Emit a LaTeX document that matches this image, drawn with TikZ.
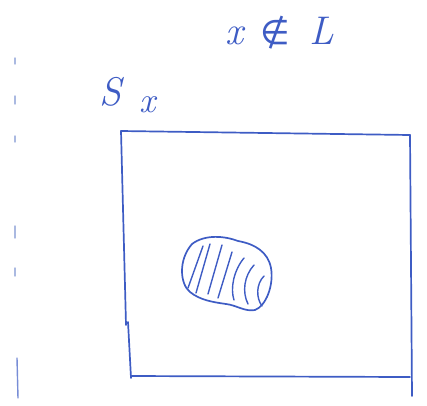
\documentclass[tikz,border=0pt]{standalone}
\usepackage{fontspec}
\newfontfamily\symfont{DejaVu Sans}
\usetikzlibrary{calc}
\definecolor{penblue}{RGB}{62,92,196}
\definecolor{faintblue}{RGB}{170,185,225}

\begin{document}
\begin{tikzpicture}[
  x=1pt, y=-1pt,
  pen/.style={draw=penblue, line width=1.7pt, line cap=round, line join=round},
  faint/.style={draw=faintblue, line width=1.4pt, line cap=round},
  hatch/.style={pen, line width=1.4pt},
  label/.style={text=penblue, inner sep=0pt, font=\fontsize{40}{44}\selectfont\itshape},
]
\useasboundingbox (0,0) rectangle (427,405);

% ---- labels ----
\node[label] (elem) at (234,36) {x};
\node[label, font=\fontsize{34}{38}\selectfont\symfont] (notin) at (275,33) {∉};
\node[label] (lang) at (322,31) {L};
\node[label] (setname) at (110,92) {S};
\node[label, font=\fontsize{36}{40}\selectfont\itshape] (index) at (148,105) {x};

% ---- the box ----
\coordinate (tl) at (121,131);
\coordinate (tr) at (410,135);
\coordinate (br) at (410,377);
\coordinate (bl) at (131,376);
\draw[pen] (tl) -- (tr);
\draw[pen] (tr) -- (412,396);
\draw[pen] (tl) -- (126,325);
\draw[pen] (128,322) -- (131,378);
\draw[pen] (bl) -- (br);

% ---- shaded blob ----
\draw[pen] (192,244) .. controls (205,234) and (225,236) .. (238,241)
  .. controls (255,244) and (268,252) .. (271,268)
  .. controls (274,285) and (266,306) .. (255,310)
  .. controls (245,312) and (236,305) .. (226,304)
  .. controls (212,302) and (200,300) .. (190,292)
  .. controls (180,284) and (178,260) .. (192,244) -- cycle;
\draw[hatch] (203,246) -- (188,288);
\draw[hatch] (210,244) -- (196,293);
\draw[hatch] (222,245) -- (208,294);
\draw[hatch] (232,252) -- (218,298);
\draw[hatch] (244,258) .. controls (234,270) and (230,288) .. (234,300);
\draw[hatch] (254,265) .. controls (244,276) and (242,292) .. (248,304);
\draw[hatch] (264,276) .. controls (256,284) and (256,298) .. (262,306);

% ---- faint marks along the left edge ----
\foreach \ya/\yb in {58/64, 96/104, 136/142, 226/238, 268/276}
  \draw[faint] (15,\ya) -- (15,\yb);
\draw[faint, draw=penblue!70] (17,358) -- (18,398);
\end{tikzpicture}
\end{document}
